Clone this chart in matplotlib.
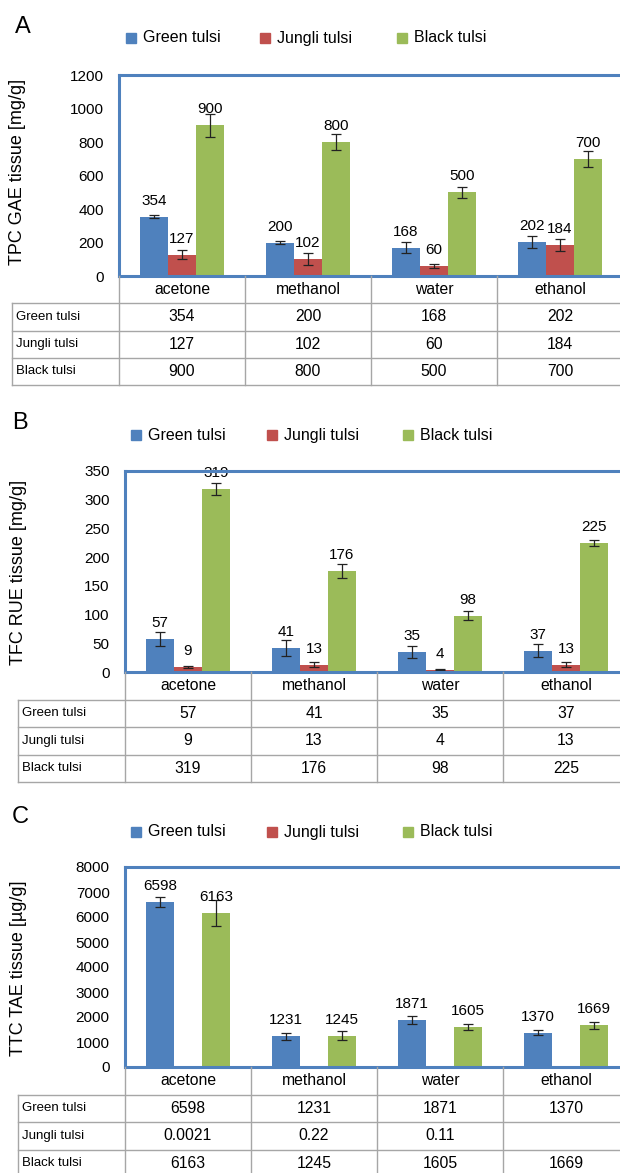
import numpy as np
import matplotlib
matplotlib.use("Agg")
import matplotlib.pyplot as plt
from matplotlib.patches import Rectangle

plt.rcParams['font.family'] = ['Liberation Sans', 'DejaVu Sans']

solvents = ["acetone", "methanol", "water", "ethanol"]
series = ["Green tulsi", "Jungli tulsi", "Black tulsi"]
colors = ["#4F81BD", "#C0504D", "#9BBB59"]

# A: total phenolic content
tpc_green = [354, 200, 168, 202]
tpc_jungli = [127, 102, 60, 184]
tpc_black = [900, 800, 500, 700]
tpc_green_err = [10, 10, 33, 35]
tpc_jungli_err = [27, 37, 13, 37]
tpc_black_err = [70, 45, 33, 49]

# B: total flavonoid content
tfc_green = [57, 41, 35, 37]
tfc_jungli = [9, 13, 4, 13]
tfc_black = [319, 176, 98, 225]
tfc_green_err = [12, 14, 11, 11]
tfc_jungli_err = [1.5, 4.5, 0.6, 5]
tfc_black_err = [10, 12, 8, 5.5]

# C: total tannin content
ttc_green = [6598, 1231, 1871, 1370]
ttc_jungli = [0.0021, 0.22, 0.11, None]
ttc_black = [6163, 1245, 1605, 1669]
ttc_green_err = [212, 133, 152, 100]
ttc_black_err = [503, 179, 133, 146]
ttc_jungli_text = ["0.0021", "0.22", "0.11", ""]

W, H = 620, 1173
fig = plt.figure(figsize=(W / 100, H / 100), dpi=100)
fig.patch.set_facecolor("white")
GRID = "#A6A6A6"
FRAME = "#4F81BD"
CAT_W = 126


def fx(px):
    return px / W


def fy(py):
    return 1 - py / H


def panel(letter, ylabel, values, errs, texts, show_label, ymax, ystep,
          top, bottom, left, tab_bottom, lab_left, legend_y, legend_x,
          letter_xy, ylabel_xy):
    n = len(solvents)
    right = left + CAT_W * n
    ax = fig.add_axes([fx(left), fy(bottom), (right - left) / W, (bottom - top) / H])
    x = np.arange(n)
    bw = 0.222
    for i, (vals, err, col) in enumerate(zip(values, errs, colors)):
        v = np.array([np.nan if a is None else a for a in vals], dtype=float)
        pos = x + (i - 1) * bw
        ax.bar(pos, v, bw, color=col, zorder=2)
        if err is not None:
            ax.errorbar(pos, v, yerr=err, fmt='none', ecolor='#222222',
                        elinewidth=0.9, capsize=3.5, capthick=0.9, zorder=3)
        if show_label[i]:
            for p, val in zip(pos, vals):
                ax.annotate(f"{val:g}", (p, val), xytext=(0, 16),
                            textcoords='offset pixels', ha='center',
                            va='center', fontsize=11, zorder=4)
    ax.set_xlim(-0.5, n - 0.5)
    ax.set_ylim(0, ymax)
    ax.set_yticks(np.arange(0, ymax + 1, ystep))
    ax.set_xticks([])
    ax.tick_params(axis='y', length=0, pad=11, labelsize=11)
    for s in ax.spines.values():
        s.set_color(FRAME)
        s.set_linewidth(2.2)
        s.set_zorder(5)

    # data table under the plot
    xmin = -0.5 - (left - lab_left) / CAT_W
    tax = fig.add_axes([fx(lab_left), fy(tab_bottom), (right - lab_left) / W,
                        (tab_bottom - bottom) / H])
    tax.set_xlim(xmin, n - 0.5)
    tax.set_ylim(4, 0)
    tax.axis('off')
    for k in range(n + 1):
        tax.plot([k - 0.5, k - 0.5], [0, 4], color=GRID, lw=1, clip_on=False)
    tax.plot([xmin, xmin], [1, 4], color=GRID, lw=1, clip_on=False)
    for r in range(1, 5):
        tax.plot([xmin, n - 0.5], [r, r], color=GRID, lw=1, clip_on=False)
    for k, name in enumerate(solvents):
        tax.text(k, 0.5, name, ha='center', va='center', fontsize=11.3)
    pad = 4 / CAT_W
    for r, name in enumerate(series):
        tax.text(xmin + pad, r + 1.5, name, ha='left', va='center', fontsize=9.5)
        for k in range(n):
            tax.text(k, r + 1.5, texts[r][k], ha='center', va='center', fontsize=11.3)

    # legend across the top
    for lx, name, col in zip(legend_x, series, colors):
        fig.add_artist(Rectangle((fx(lx), fy(legend_y + 5)), 10 / W, 10 / H,
                                 transform=fig.transFigure, color=col))
        fig.text(fx(lx + 17), fy(legend_y), name, ha='left', va='center', fontsize=11.5)

    fig.text(fx(letter_xy[0]), fy(letter_xy[1]), letter, ha='center', va='center', fontsize=17)
    fig.text(fx(ylabel_xy[0]), fy(ylabel_xy[1]), ylabel, rotation=90,
             ha='center', va='center', fontsize=13)


def as_text(vals):
    return [f"{v:g}" for v in vals]


panel("A", "TPC GAE tissue [mg/g]",
      [tpc_green, tpc_jungli, tpc_black],
      [tpc_green_err, tpc_jungli_err, tpc_black_err],
      [as_text(tpc_green), as_text(tpc_jungli), as_text(tpc_black)],
      [True, True, True], 1200, 200,
      top=75, bottom=276, left=119, tab_bottom=385, lab_left=12,
      legend_y=38, legend_x=[126, 260, 397], letter_xy=(23, 27), ylabel_xy=(18, 172))

panel("B", "TFC RUE tissue [mg/g]",
      [tfc_green, tfc_jungli, tfc_black],
      [tfc_green_err, tfc_jungli_err, tfc_black_err],
      [as_text(tfc_green), as_text(tfc_jungli), as_text(tfc_black)],
      [True, True, True], 350, 50,
      top=471, bottom=672, left=125, tab_bottom=782, lab_left=18,
      legend_y=435, legend_x=[131, 267, 403], letter_xy=(20, 423), ylabel_xy=(19, 572))

panel("C", "TTC TAE tissue [µg/g]",
      [ttc_green, ttc_jungli, ttc_black],
      [ttc_green_err, None, ttc_black_err],
      [as_text(ttc_green), ttc_jungli_text, as_text(ttc_black)],
      [True, False, True], 8000, 1000,
      top=867, bottom=1067, left=125, tab_bottom=1177, lab_left=18,
      legend_y=832, legend_x=[131, 267, 403], letter_xy=(20, 817), ylabel_xy=(19, 968))

fig.savefig("out.png", dpi=100)
